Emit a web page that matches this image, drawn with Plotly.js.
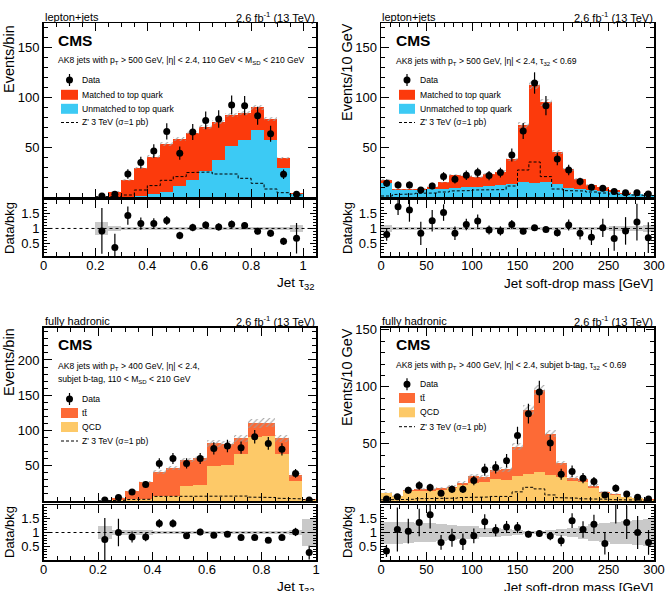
<!DOCTYPE html>
<html>
<head>
<meta charset="utf-8">
<script src="https://cdn.plot.ly/plotly-3.0.1.min.js"></script>
<style>
  html, body { margin: 0; padding: 0; background: #ffffff; }
  #chart { width: 666px; height: 591px; }
</style>
</head>
<body>
<div id="chart"></div>
<script>
// ---------- lepton+jets, jet tau32 ----------
const ljTauCenters   = [0.225,0.275,0.325,0.375,0.425,0.475,0.525,0.575,0.625,0.675,0.725,0.775,0.825,0.875,0.925,0.975];
const ljTauMatched   = [0.5,5.1,16.5,28.4,37.8,47.7,46.6,47.5,44.5,38,31,27,22.6,21,10,1.3];
const ljTauUnmatched = [0,0.2,0.5,1,2.7,5.3,11.4,17,26,37,51,57,67,57,29,2.7];
const ljTauUnc       = [0.1,0.3,0.6,1,1.3,1.6,1.7,1.9,2,2.1,2.3,2.4,2.5,2.3,1.3,0.3];
const ljTauZprime    = [0.3,0.5,2,7,11.4,16.7,20.4,24.4,25,23,23,18.7,13.7,8,4.3,2];
const ljTauData      = [1,2.7,23,34.4,46,65.6,43.8,65,76.6,78,92,91.3,81.3,63.2,22.7,2.7];
const ljTauDataErr   = [1,1.6,4.8,5.9,6.8,8.1,6.6,8.1,8.8,8.8,9.6,9.6,9,8,4.8,1.6];
const ljTauRatio     = [0.92,0.38,1.42,1.16,1.16,1.26,0.77,1.03,1.11,1.05,1.14,1.10,0.91,0.84,0.58,0.68];
const ljTauRatioErr  = [0.75,0.45,0.3,0.2,0.17,0.15,0.12,0.12,0.12,0.12,0.12,0.11,0.1,0.11,0.12,0.5];
const ljTauBand      = [0.22,0.08,0.06,0.04,0.04,0.04,0.04,0.04,0.04,0.04,0.04,0.04,0.04,0.04,0.05,0.1];

// ---------- lepton+jets, jet soft-drop mass ----------
const ljMassCenters   = [6.25,18.75,31.25,43.75,56.25,68.75,81.25,93.75,106.25,118.75,131.25,143.75,156.25,168.75,181.25,193.75,206.25,218.75,231.25,243.75,256.25,268.75,281.25,293.75];
const ljMassMatched   = [3,0.7,0.7,1.4,2.8,6.3,13.3,11.3,9.9,11.7,13.7,24.8,56.6,97.6,79.2,32.5,18.4,9.2,4.5,3.3,2,0.9,0.6,0.6];
const ljMassUnmatched = [14,7,7,7,7.7,8.4,8.7,9.7,10.5,11,11.7,13,15.4,14.4,15.4,13,9.4,8.5,7.5,6.4,5,3.5,2.7,1.7];
const ljMassUnc       = [0.8,0.4,0.4,0.4,0.5,0.7,1,1,1,1,1.2,1.7,3,4,3.5,2,1.3,0.9,0.6,0.5,0.4,0.3,0.2,0.2];
const ljMassZprime    = [1,2.5,3,3.7,4,5,6,6.4,7,7.2,7.4,11,27,35,20.4,8,6.4,6,5,4,3,2.5,2,1.5];
const ljMassData      = [13.7,12,12,7,11,20.4,17.7,21.7,24.4,21.4,24.4,42,66,114,91.3,38,27,15.4,9.7,8.7,5.4,4.3,4.3,3];
const ljMassDataErr   = [3.7,3.5,3.5,2.6,3.3,4.5,4.2,4.7,4.9,4.6,4.9,6.5,8.1,10.7,9.6,6.2,5.2,3.9,3.1,2.9,2.3,2.1,2.1,1.7];
const ljMassRatio     = [0.80,1.71,1.60,0.84,1.25,1.52,0.84,1.13,1.24,0.95,0.92,1.13,0.91,1.02,0.97,0.86,1.11,0.84,0.71,1.02,0.67,0.92,1.21,0.70];
const ljMassRatioErr  = [0.2,0.27,0.38,0.38,0.35,0.27,0.22,0.19,0.22,0.15,0.15,0.15,0.1,0.08,0.08,0.12,0.18,0.2,0.25,0.3,0.4,0.45,0.6,0.5];
const ljMassBand      = [0.1,0.06,0.06,0.06,0.06,0.05,0.05,0.05,0.05,0.05,0.05,0.05,0.05,0.05,0.05,0.05,0.05,0.05,0.05,0.06,0.07,0.08,0.08,0.1];

// ---------- fully hadronic, jet tau32 ----------
const fhTauCenters  = [0.225,0.275,0.325,0.375,0.425,0.475,0.525,0.575,0.625,0.675,0.725,0.775,0.825,0.875,0.925,0.975];
const fhTauTTbar    = [0.2,3.1,11.8,23.5,34,39.3,37,37.4,31.7,30,22.8,19,19,21.8,7.8,1];
const fhTauQCD      = [0.3,1.5,2.2,3.5,7,7.7,21,23,50,51,66,91,92,67,29,2];
const fhTauUnc      = [0.1,0.4,1,1.8,2.5,2.8,3.3,3.5,4.5,4.5,5,6.5,6.5,5,2.5,0.5];
const fhTauZprime   = [0.3,1,2,2.5,6.5,7,7.4,7.5,7.5,7.4,7,5.5,5,4,3,2];
const fhTauData     = [1.3,5,12.6,23.5,53.3,60.4,53.3,60.4,74.6,78,75.6,91.2,81.7,73.2,39,1.3];
const fhTauDataErr  = [1.1,2.2,3.5,4.8,7.3,7.8,7.3,7.8,8.6,8.8,8.7,9.5,9,8.6,6.2,1.1];
const fhTauRatio    = [0.75,1.0,0.84,0.84,1.33,1.33,0.88,1.02,0.9,0.94,0.82,0.82,0.72,0.82,1.02,0.27];
const fhTauRatioErr = [0.78,0.5,0.2,0.16,0.16,0.15,0.12,0.12,0.1,0.1,0.1,0.09,0.08,0.09,0.15,0.25];
const fhTauBand     = [0.25,0.1,0.1,0.1,0.06,0.06,0.05,0.05,0.05,0.05,0.05,0.05,0.05,0.05,0.08,0.5];

// ---------- fully hadronic, jet soft-drop mass ----------
const fhMassCenters  = [6,18,30,42,54,66,78,90,102,114,126,138,150,162,174,186,198,210,222,234,246,258,270,282,294];
const fhMassTTbar    = [0.2,0.1,0.7,1.3,1.3,1.5,1.6,2.2,5.5,3.9,8.4,9.5,25.4,56.2,72,36,12.3,2.4,2,1.7,0.8,0.9,0.6,0.6,0.2];
const fhMassQCD      = [7.2,4.3,9,9,9,9.7,11,14,16,17,19,18.5,22,23.5,25,23,20.9,17.6,17,11.8,7.4,5.3,3.2,2.3,1.3];
const fhMassUnc      = [0.8,0.5,1,1,1,1.1,1.2,1.5,1.8,1.8,2.2,2.2,3,4,4.5,3,2,1.5,1.5,1.2,0.8,0.6,0.4,0.3,0.2];
const fhMassZprime   = [1,1.5,1.5,2,2,2.5,2.5,3,3,3.5,4,4,8,12,10.6,5.3,3,2.5,2,1.8,1.5,1.2,1,0.8,0.5];
const fhMassData     = [1.8,3.8,9.4,13.5,11.8,6.8,10.3,10.3,18,27.4,29.4,35.3,57.4,76.5,95.6,50.9,23.5,25.9,20,17,5.3,11.2,6.2,3.2,1.8];
const fhMassDataErr  = [1.3,2,3.1,3.7,3.4,2.6,3.2,3.2,4.2,5.2,5.4,5.9,7.6,8.7,9.8,7.1,4.8,5.1,4.5,4.1,2.3,3.3,2.5,1.8,1.3];
const fhMassRatio    = [0.33,1.11,1.05,1.36,1.65,0.64,0.81,0.66,0.88,1.39,1.08,1.2,1.18,0.94,0.96,0.87,0.7,1.43,1.11,1.3,0.6,2.2,1.36,1.0,0.64];
const fhMassRatioErr = [0.22,0.8,0.45,0.5,0.5,0.27,0.33,0.3,0.27,0.27,0.22,0.22,0.2,0.12,0.12,0.15,0.2,0.27,0.3,0.35,0.4,0.87,0.6,0.6,0.45];
const fhMassBand     = [0.4,0.4,0.38,0.35,0.33,0.3,0.28,0.25,0.22,0.18,0.15,0.12,0.08,0.06,0.06,0.08,0.12,0.18,0.25,0.3,0.35,0.4,0.42,0.45,0.5];

// ---------- styling ----------
const FONT = 'Liberation Sans, Arial, Helvetica, sans-serif';
const COL_MATCHED   = '#fc3a0c';
const COL_UNMATCHED = '#3ccaf4';
const COL_TTBAR     = '#fd6a36';
const COL_QCD       = '#fdc968';
const COL_HATCH     = '#a0a0a0';
const COL_BAND      = '#c9c9c9';

const W = 666, H = 591;
const px = v => v / W;
const py = v => 1 - v / H;

const panels = [
  { centers: ljTauCenters, w: 0.05, lower: ljTauUnmatched, upper: ljTauMatched,
    lowerColor: COL_UNMATCHED, upperColor: COL_MATCHED, unc: ljTauUnc, zp: ljTauZprime,
    data: ljTauData, dataErr: ljTauDataErr, ratio: ljTauRatio, ratioErr: ljTauRatioErr, band: ljTauBand },
  { centers: ljMassCenters, w: 12.5, lower: ljMassUnmatched, upper: ljMassMatched,
    lowerColor: COL_UNMATCHED, upperColor: COL_MATCHED, unc: ljMassUnc, zp: ljMassZprime,
    data: ljMassData, dataErr: ljMassDataErr, ratio: ljMassRatio, ratioErr: ljMassRatioErr, band: ljMassBand },
  { centers: fhTauCenters, w: 0.05, lower: fhTauQCD, upper: fhTauTTbar,
    lowerColor: COL_QCD, upperColor: COL_TTBAR, unc: fhTauUnc, zp: fhTauZprime,
    data: fhTauData, dataErr: fhTauDataErr, ratio: fhTauRatio, ratioErr: fhTauRatioErr, band: fhTauBand },
  { centers: fhMassCenters, w: 12, lower: fhMassQCD, upper: fhMassTTbar,
    lowerColor: COL_QCD, upperColor: COL_TTBAR, unc: fhMassUnc, zp: fhMassZprime,
    data: fhMassData, dataErr: fhMassDataErr, ratio: fhMassRatio, ratioErr: fhMassRatioErr, band: fhMassBand }
];

// axis ids: main = 2k+1, ratio = 2k+2
const axName = n => (n === 1 ? '' : String(n));

const traces = [];
panels.forEach((p, k) => {
  const mx = 'x' + axName(2 * k + 1), my = 'y' + axName(2 * k + 1);
  const rx = 'x' + axName(2 * k + 2), ry = 'y' + axName(2 * k + 2);
  const total = p.lower.map((v, i) => v + p.upper[i]);
  const common = { showlegend: false, hoverinfo: 'skip' };

  // stacked background: full stack first, lower component drawn over it
  traces.push(Object.assign({ type: 'bar', x: p.centers, y: total, width: p.w, xaxis: mx, yaxis: my,
    marker: { color: p.upperColor, line: { width: 0 } } }, common));
  traces.push(Object.assign({ type: 'bar', x: p.centers, y: p.lower, width: p.w, xaxis: mx, yaxis: my,
    marker: { color: p.lowerColor, line: { width: 0 } } }, common));
  // hatched uncertainty on the stack total
  traces.push(Object.assign({ type: 'bar', x: p.centers, y: p.unc.map(u => 2 * u),
    base: total.map((t, i) => t - p.unc[i]), width: p.w, xaxis: mx, yaxis: my,
    marker: { color: COL_HATCH, line: { width: 0 },
      pattern: { shape: '/', size: 4, solidity: 0.25, fillmode: 'replace' } } }, common));

  // Z' signal as a dashed step outline
  const sx = [], sy = [];
  p.centers.forEach((c, i) => { sx.push(c - p.w / 2, c + p.w / 2); sy.push(p.zp[i], p.zp[i]); });
  traces.push(Object.assign({ type: 'scatter', mode: 'lines', x: sx, y: sy, xaxis: mx, yaxis: my,
    line: { color: 'black', width: 1, dash: '3px,2px' } }, common));

  // data
  traces.push(Object.assign({ type: 'scatter', mode: 'markers', x: p.centers, y: p.data, xaxis: mx, yaxis: my,
    marker: { color: 'black', size: 7 },
    error_y: { type: 'data', array: p.dataErr, color: 'black', thickness: 1.2, width: 0 } }, common));

  // ratio panel: background uncertainty band, then data/bkg points
  traces.push(Object.assign({ type: 'bar', x: p.centers, y: p.band.map(b => 2 * b),
    base: p.band.map(b => 1 - b), width: p.w, xaxis: rx, yaxis: ry,
    marker: { color: COL_BAND, line: { width: 0 } } }, common));
  traces.push(Object.assign({ type: 'scatter', mode: 'markers', x: p.centers, y: p.ratio, xaxis: rx, yaxis: ry,
    marker: { color: 'black', size: 7 },
    error_y: { type: 'data', array: p.ratioErr, color: 'black', thickness: 1.2, width: 0 } }, common));
});

function axisBase(extra) {
  return Object.assign({
    showline: true, linecolor: 'black', linewidth: 1.5, mirror: 'allticks',
    ticks: 'inside', ticklen: 8, tickwidth: 1, tickcolor: 'black',
    showgrid: false, zeroline: false, fixedrange: true,
    tickfont: { family: FONT, size: 13, color: 'black' }
  }, extra);
}

const layout = {
  width: W, height: H,
  margin: { l: 0, r: 0, t: 0, b: 0 },
  paper_bgcolor: 'white', plot_bgcolor: 'white',
  barmode: 'overlay', bargap: 0,
  showlegend: false,
  font: { family: FONT, color: 'black' },
  annotations: [], shapes: []
};

// frame geometry per panel (pixels): left, right, main top/bottom, ratio top/bottom
const geo = [
  { l: 43.5, r: 316, mt: 23,  mb: 197, rt: 200, rb: 256 },
  { l: 381,  r: 654, mt: 23,  mb: 197, rt: 200, rb: 256 },
  { l: 43.5, r: 316, mt: 327.5, mb: 501, rt: 505, rb: 560 },
  { l: 381,  r: 654, mt: 327.5, mb: 501, rt: 505, rb: 560 }
];
const xRanges = [[0, 1.05], [0, 300], [0, 1], [0, 300]];
const xDtick = [0.2, 50, 0.2, 50];
const xMinor = [0.05, 10, 0.05, 10];
const yRanges = [[0, 174], [0, 174], [0, 246], [0, 152]];
const yTicks = [[50, 100, 150], [50, 100, 150], [50, 100, 150, 200], [50, 100, 150]];
const rRanges = [[0.1, 1.93], [0.1, 1.93], [0, 2], [0, 2]];

geo.forEach((g, k) => {
  const m = 2 * k + 1, r = 2 * k + 2;
  const xd = [px(g.l), px(g.r)];
  layout['xaxis' + axName(m)] = axisBase({ domain: xd, range: xRanges[k], anchor: 'y' + axName(m),
    tick0: 0, dtick: xDtick[k], showticklabels: false,
    minor: { dtick: xMinor[k], tick0: 0, ticklen: 4, ticks: 'inside', tickcolor: 'black' } });
  layout['yaxis' + axName(m)] = axisBase({ domain: [py(g.mb), py(g.mt)], range: yRanges[k], anchor: 'x' + axName(m),
    tickmode: 'array', tickvals: yTicks[k],
    minor: { dtick: 10, tick0: 0, ticklen: 4, ticks: 'inside', tickcolor: 'black' } });
  layout['xaxis' + axName(r)] = axisBase({ domain: xd, range: xRanges[k], anchor: 'y' + axName(r),
    tick0: 0, dtick: xDtick[k], showticklabels: true, ticklabelstandoff: -3,
    minor: { dtick: xMinor[k], tick0: 0, ticklen: 4, ticks: 'inside', tickcolor: 'black' } });
  layout['yaxis' + axName(r)] = axisBase({ domain: [py(g.rb), py(g.rt)], range: rRanges[k], anchor: 'x' + axName(r),
    tickmode: 'array', tickvals: [0.5, 1, 1.5], ticktext: ['0.5', '1', '1.5'], ticklen: 6,
    minor: { dtick: 0.1, tick0: 0, ticklen: 3, ticks: 'inside', tickcolor: 'black' } });

  // dotted unity line in the ratio panel
  layout.shapes.push({ type: 'line', xref: 'x' + axName(r) + ' domain', x0: 0, x1: 1,
    yref: 'y' + axName(r), y0: 1, y1: 1, line: { color: 'black', width: 1, dash: 'dot' } });
});

function ann(text, x, y, o) {
  o = o || {};
  layout.annotations.push({
    text: text, xref: 'paper', yref: 'paper', x: px(x), y: py(y), showarrow: false,
    xanchor: o.xanchor || 'left', yanchor: o.yanchor || 'middle', textangle: o.angle || 0,
    borderpad: 0,
    font: { family: FONT, size: o.size || 11, color: 'black', weight: o.weight || 'normal' }
  });
}

// headers, CMS labels, selections
const headers = [
  { left: 'lepton+jets', g: geo[0], ty: 16.5 },
  { left: 'lepton+jets', g: geo[1], ty: 16.5 },
  { left: 'fully hadronic', g: geo[2], ty: 321 },
  { left: 'fully hadronic', g: geo[3], ty: 321 }
];
headers.forEach(h => {
  ann(h.left, h.g.l, h.ty, { size: 11 });
  ann('2.6 fb<sup>-1</sup> (13 TeV)', h.g.r, h.ty, { size: 11, xanchor: 'right' });
});

const cmsPos = [[57, 40.5], [395, 40.5], [57, 344.5], [395, 344.5]];
cmsPos.forEach(c => ann('CMS', c[0], c[1], { size: 15.5, weight: 'bold' }));

const SEL = 8.6;
ann('AK8 jets with p<sub>T</sub> > 500 GeV, |η| < 2.4, 110 GeV < M<sub>SD</sub> < 210 GeV', 57, 60.5, { size: SEL });
ann('AK8 jets with p<sub>T</sub> > 500 GeV, |η| < 2.4, τ<sub>32</sub> < 0.69', 395, 61, { size: SEL });
ann('AK8 jets with p<sub>T</sub> > 400 GeV, |η| < 2.4,', 57, 366, { size: SEL });
ann('subjet b-tag, 110 < M<sub>SD</sub> < 210 GeV', 57, 379.5, { size: SEL });
ann('AK8 jets with p<sub>T</sub> > 400 GeV, |η| < 2.4, subjet b-tag, τ<sub>32</sub> < 0.69', 395, 365, { size: SEL });

// legends: swatch x range, text x, row y positions
const legends = [
  { sx: 61, ex: 78, tx: 81, mx: 69.5, rows: [80, 94.8, 108.8, 122.5], names: ['Matched to top quark', 'Unmatched to top quark'], cols: [COL_MATCHED, COL_UNMATCHED] },
  { sx: 399, ex: 415, tx: 419, mx: 407, rows: [80, 94.8, 108.8, 122.5], names: ['Matched to top quark', 'Unmatched to top quark'], cols: [COL_MATCHED, COL_UNMATCHED] },
  { sx: 61, ex: 78, tx: 81, mx: 69.5, rows: [399, 413, 427, 441], names: ['tt\u0304', 'QCD'], cols: [COL_TTBAR, COL_QCD] },
  { sx: 399, ex: 415, tx: 419, mx: 407, rows: [384.3, 398, 412.3, 426.7], names: ['tt\u0304', 'QCD'], cols: [COL_TTBAR, COL_QCD] }
];
legends.forEach(L => {
  const r = L.rows;
  // data marker with error bar
  layout.shapes.push({ type: 'line', xref: 'paper', yref: 'paper', x0: px(L.mx), x1: px(L.mx),
    y0: py(r[0] - 6), y1: py(r[0] + 6), line: { color: 'black', width: 1.2 } });
  layout.shapes.push({ type: 'circle', xref: 'paper', yref: 'paper', x0: px(L.mx - 3.5), x1: px(L.mx + 3.5),
    y0: py(r[0] - 3.5), y1: py(r[0] + 3.5), fillcolor: 'black', line: { width: 0 } });
  ann('Data', L.tx, r[0], { size: SEL });
  // filled swatches
  [1, 2].forEach(j => {
    layout.shapes.push({ type: 'rect', xref: 'paper', yref: 'paper', x0: px(L.sx), x1: px(L.ex),
      y0: py(r[j] + 5), y1: py(r[j] - 5), fillcolor: L.cols[j - 1], line: { width: 0 } });
    ann(L.names[j - 1], L.tx, r[j], { size: SEL });
  });
  // dashed signal line
  layout.shapes.push({ type: 'line', xref: 'paper', yref: 'paper', x0: px(L.sx), x1: px(L.ex),
    y0: py(r[3]), y1: py(r[3]), line: { color: 'black', width: 1, dash: '3px,2px' } });
  ann("Z' 3 TeV (σ=1 pb)", L.tx, r[3], { size: SEL });
});

// axis titles
ann('Events/bin', 9, 24, { angle: -90, yanchor: 'top', xanchor: 'center', size: 14.5 });
ann('Events/10 GeV', 347, 22, { angle: -90, yanchor: 'top', xanchor: 'center', size: 14.5 });
ann('Events/bin', 9, 327, { angle: -90, yanchor: 'top', xanchor: 'center', size: 14.5 });
ann('Events/10 GeV', 347, 327, { angle: -90, yanchor: 'top', xanchor: 'center', size: 14.5 });
[[9, 228], [347, 228], [9, 532], [347, 532]].forEach(c =>
  ann('Data/bkg', c[0], c[1], { angle: -90, xanchor: 'center', yanchor: 'middle', size: 13 }));
ann('Jet τ<sub>32</sub>', 316, 283, { xanchor: 'right', size: 13.5 });
ann('Jet soft-drop mass [GeV]', 654, 283, { xanchor: 'right', size: 13.5 });
ann('Jet τ<sub>32</sub>', 316, 587, { xanchor: 'right', size: 13.5 });
ann('Jet soft-drop mass [GeV]', 654, 587, { xanchor: 'right', size: 13.5 });

Plotly.newPlot('chart', traces, layout, { staticPlot: true, displayModeBar: false });
</script>
</body>
</html>
